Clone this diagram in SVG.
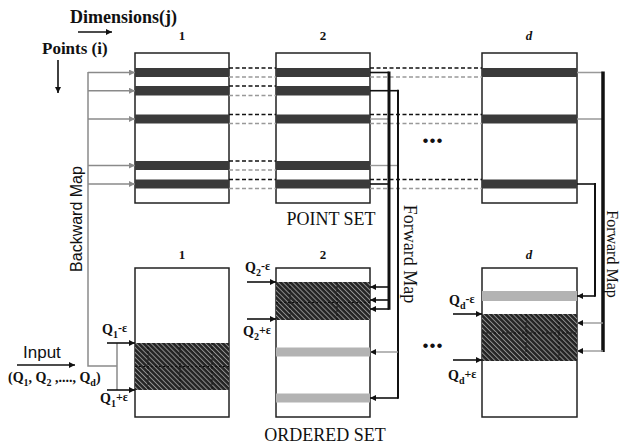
<svg xmlns="http://www.w3.org/2000/svg" width="621" height="448" viewBox="0 0 621 448">
<style>
.box{fill:#fff;stroke:#222;stroke-width:1.5}
.bar{fill:#3a3a3a}
.gbar{fill:#b3b3b3}
.hat{fill:url(#hatch)}
.grid{stroke:#111;stroke-width:1;stroke-dasharray:2 2;fill:none}
.dk{stroke:#111;stroke-width:1.6;stroke-dasharray:4 2.5;fill:none}
.dg{stroke:#999;stroke-width:1.4;stroke-dasharray:4 2.5;fill:none}
.ln{stroke:#111;stroke-width:1.6;fill:none}
.lg{stroke:#999;stroke-width:1.4;fill:none}
.bk{stroke:#8a8a8a;stroke-width:1.5;fill:none}
.serif{font-family:"Liberation Serif","Times New Roman",serif;fill:#111}
.sans{font-family:"Liberation Sans",Arial,sans-serif;fill:#111}
.q{font-family:"Liberation Serif","Times New Roman",serif;font-weight:bold;font-size:14px;fill:#111}
.num{font-family:"Liberation Serif","Times New Roman",serif;font-weight:bold;font-size:13px;fill:#111;text-anchor:middle}
</style>
<defs>
<pattern id="hatch" width="3.5" height="3.5" patternUnits="userSpaceOnUse" patternTransform="rotate(-45)">
<rect width="3.5" height="3.5" fill="#242424"/>
<line x1="0.5" y1="0" x2="0.5" y2="3.5" stroke="#9a9a9a" stroke-width="0.9"/>
</pattern>
<marker id="ab" viewBox="0 0 10 10" refX="10" refY="5" markerWidth="8" markerHeight="6" markerUnits="userSpaceOnUse" orient="auto"><path d="M0,0L10,5L0,10z" fill="#111"/></marker>
<marker id="ag" viewBox="0 0 10 10" refX="10" refY="5" markerWidth="9" markerHeight="6" markerUnits="userSpaceOnUse" orient="auto"><path d="M0,0L10,5L0,10z" fill="#8a8a8a"/></marker>
</defs>

<g id="axis-labels">
<text class="serif" x="70" y="23" font-size="18" font-weight="bold">Dimensions(j)</text>
<text class="serif" x="42" y="54" font-size="17" font-weight="bold">Points (i)</text>
</g>

<g id="point-set-1">
<text class="num" x="182" y="40">1</text>
<rect class="box" x="135" y="53" width="94" height="150"/>
<rect class="bar" x="135" y="68" width="94" height="9"/>
<rect class="bar" x="135" y="86" width="94" height="9.5"/>
<rect class="bar" x="135" y="114.5" width="94" height="9"/>
<rect class="bar" x="135" y="161" width="94" height="9"/>
<rect class="bar" x="135" y="179.5" width="94" height="9"/>
</g>
<g id="point-set-2">
<text class="num" x="323" y="40">2</text>
<rect class="box" x="276" y="53" width="94" height="150"/>
<rect class="bar" x="276" y="68" width="94" height="9"/>
<rect class="bar" x="276" y="86" width="94" height="9.5"/>
<rect class="bar" x="276" y="114.5" width="94" height="9"/>
<rect class="bar" x="276" y="161" width="94" height="9"/>
<rect class="bar" x="276" y="179.5" width="94" height="9"/>
</g>
<g id="point-set-d">
<text class="num" x="529" y="40" font-style="italic">d</text>
<rect class="box" x="482" y="53" width="95" height="150"/>
<rect class="bar" x="482" y="68" width="95" height="9"/>
<rect class="bar" x="482" y="114.5" width="95" height="9"/>
<rect class="bar" x="482" y="179.5" width="95" height="9"/>
</g>
<g id="point-set-label">
<text class="serif" x="331" y="225" font-size="18" text-anchor="middle">POINT SET</text>
<text class="serif" x="422" y="143" font-size="28" font-weight="bold">...</text>
</g>

<g id="ordered-set-1">
<text class="num" x="182" y="259">1</text>
<rect class="box" x="135" y="268" width="94" height="149"/>
<rect class="hat" x="135" y="343" width="94" height="47"/>
<path class="grid" d="M135,366.5H229M148,343V390M180,343V390M212,343V390"/>
</g>
<g id="ordered-set-2">
<text class="num" x="323" y="259">2</text>
<rect class="box" x="276" y="268" width="94" height="149"/>
<rect class="hat" x="276" y="282" width="94" height="38"/>
<path class="grid" d="M276,302.5H370M290,282V320M337,282V320"/>
<rect class="gbar" x="276" y="347.5" width="94" height="9"/>
<rect class="gbar" x="276" y="393.5" width="94" height="9"/>
</g>
<g id="ordered-set-d">
<text class="num" x="529" y="259" font-style="italic">d</text>
<rect class="box" x="482" y="268" width="95" height="149"/>
<rect class="gbar" x="482" y="291" width="95" height="10"/>
<rect class="hat" x="482" y="314" width="95" height="47"/>
<path class="grid" d="M482,333H577M526,314V361M559,314V361"/>
</g>
<g id="ordered-set-label">
<text class="serif" x="325" y="441" font-size="18" text-anchor="middle">ORDERED SET</text>
<text class="serif" x="422" y="348" font-size="28" font-weight="bold">...</text>
</g>

<g id="query-labels">
<text class="sans" x="23" y="358" font-size="17">Input</text>
<text class="serif" x="8" y="382" font-size="14" font-weight="bold">(Q<tspan font-size="10" dy="4">1</tspan><tspan dy="-4">, Q</tspan><tspan font-size="10" dy="4">2</tspan><tspan dy="-4"> ,...., Q</tspan><tspan font-size="10" dy="4">d</tspan><tspan dy="-4">)</tspan></text>
<text class="q" x="102" y="334">Q<tspan font-size="10" dy="4">1</tspan><tspan font-size="12" dy="-6">-ε</tspan></text>
<text class="q" x="100" y="403">Q<tspan font-size="10" dy="4">1</tspan><tspan font-size="12" dy="-6">+ε</tspan></text>
<text class="q" x="245" y="272">Q<tspan font-size="10" dy="4">2</tspan><tspan font-size="12" dy="-6">-ε</tspan></text>
<text class="q" x="243" y="336">Q<tspan font-size="10" dy="4">2</tspan><tspan font-size="12" dy="-6">+ε</tspan></text>
<text class="q" x="449" y="305">Q<tspan font-size="10" dy="4">d</tspan><tspan font-size="12" dy="-6">-ε</tspan></text>
<text class="q" x="448" y="380">Q<tspan font-size="10" dy="4">d</tspan><tspan font-size="12" dy="-6">+ε</tspan></text>
</g>

<g id="map-labels">
<text class="sans" font-size="16" text-anchor="middle" transform="translate(82,219) rotate(-90)">Backward Map</text>
<text class="serif" font-size="18" text-anchor="middle" transform="translate(404,254) rotate(90)">Forward Map</text>
<text class="serif" font-size="16" text-anchor="middle" transform="translate(607,254) rotate(90)">Forward Map</text>
</g>

<g id="connectors">
<line class="ln" x1="78" y1="32" x2="112" y2="32" stroke-width="2" marker-end="url(#ab)"/>
<line class="ln" x1="58" y1="60" x2="58" y2="93" stroke-width="2" marker-end="url(#ab)"/>
<path class="dk" d="M229,68H276M229,86H276M229,114.5H276M229,161H276M229,179.5H276"/>
<path class="dg" d="M229,77H276M229,95.5H276M229,123.5H276M229,170H276M229,188.5H276"/>
<path class="dk" d="M370,68H482M370,114.5H482M370,179.5H482"/>
<path class="dg" d="M370,77H482M370,123.5H482M370,188.5H482"/>
<path class="bk" d="M88,72V366H117" stroke-width="2.8"/>
<line class="bk" x1="117" y1="343" x2="117" y2="390" stroke-width="2"/>
<line class="bk" x1="88" y1="72.5" x2="135" y2="72.5" marker-end="url(#ag)"/>
<line class="bk" x1="88" y1="90.7" x2="135" y2="90.7" marker-end="url(#ag)"/>
<line class="bk" x1="88" y1="119" x2="135" y2="119" marker-end="url(#ag)"/>
<line class="bk" x1="88" y1="165.5" x2="135" y2="165.5" marker-end="url(#ag)"/>
<line class="bk" x1="88" y1="184" x2="135" y2="184" marker-end="url(#ag)"/>
<line class="ln" x1="17" y1="365" x2="75" y2="365" stroke-width="2.2" marker-end="url(#ab)"/>
<line class="ln" x1="107" y1="343" x2="135" y2="343" marker-end="url(#ab)"/>
<line class="ln" x1="107" y1="390" x2="135" y2="390" marker-end="url(#ab)"/>
<line class="ln" x1="247" y1="282" x2="276" y2="282" marker-end="url(#ab)"/>
<line class="ln" x1="247" y1="319" x2="276" y2="319" marker-end="url(#ab)"/>
<line class="ln" x1="453" y1="314" x2="482" y2="314" marker-end="url(#ab)"/>
<line class="ln" x1="453" y1="360" x2="482" y2="360" marker-end="url(#ab)"/>
<path class="ln" d="M370,72.5H389"/>
<path class="lg" d="M370,119H389"/>
<path class="ln" d="M370,184H389"/>
<path class="ln" d="M370,90.7H398"/>
<path class="lg" d="M370,165.5H398"/>
<line x1="389" y1="71.5" x2="389" y2="309.8" stroke="#111" stroke-width="3"/>
<line x1="398" y1="89.7" x2="398" y2="398.8" stroke="#111" stroke-width="2"/>
<line class="ln" x1="389" y1="287" x2="370" y2="287" marker-end="url(#ab)"/>
<line class="ln" x1="389" y1="300" x2="370" y2="300" marker-end="url(#ab)"/>
<line class="ln" x1="389" y1="309" x2="370" y2="309" marker-end="url(#ab)"/>
<line class="lg" x1="398" y1="352" x2="370" y2="352" marker-end="url(#ab)"/>
<line class="ln" x1="398" y1="398" x2="370" y2="398" marker-end="url(#ab)"/>
<path class="lg" d="M577,72.5H603M577,119H603"/>
<path class="ln" d="M577,184H595"/>
<line x1="603" y1="71.5" x2="603" y2="352" stroke="#111" stroke-width="3.5"/>
<line x1="595" y1="183" x2="595" y2="296.8" stroke="#111" stroke-width="2"/>
<line class="ln" x1="595" y1="296" x2="577" y2="296" marker-end="url(#ab)"/>
<line class="lg" x1="603" y1="323" x2="577" y2="323" marker-end="url(#ab)"/>
<line class="lg" x1="603" y1="351" x2="577" y2="351" marker-end="url(#ab)"/>
</g>
</svg>
